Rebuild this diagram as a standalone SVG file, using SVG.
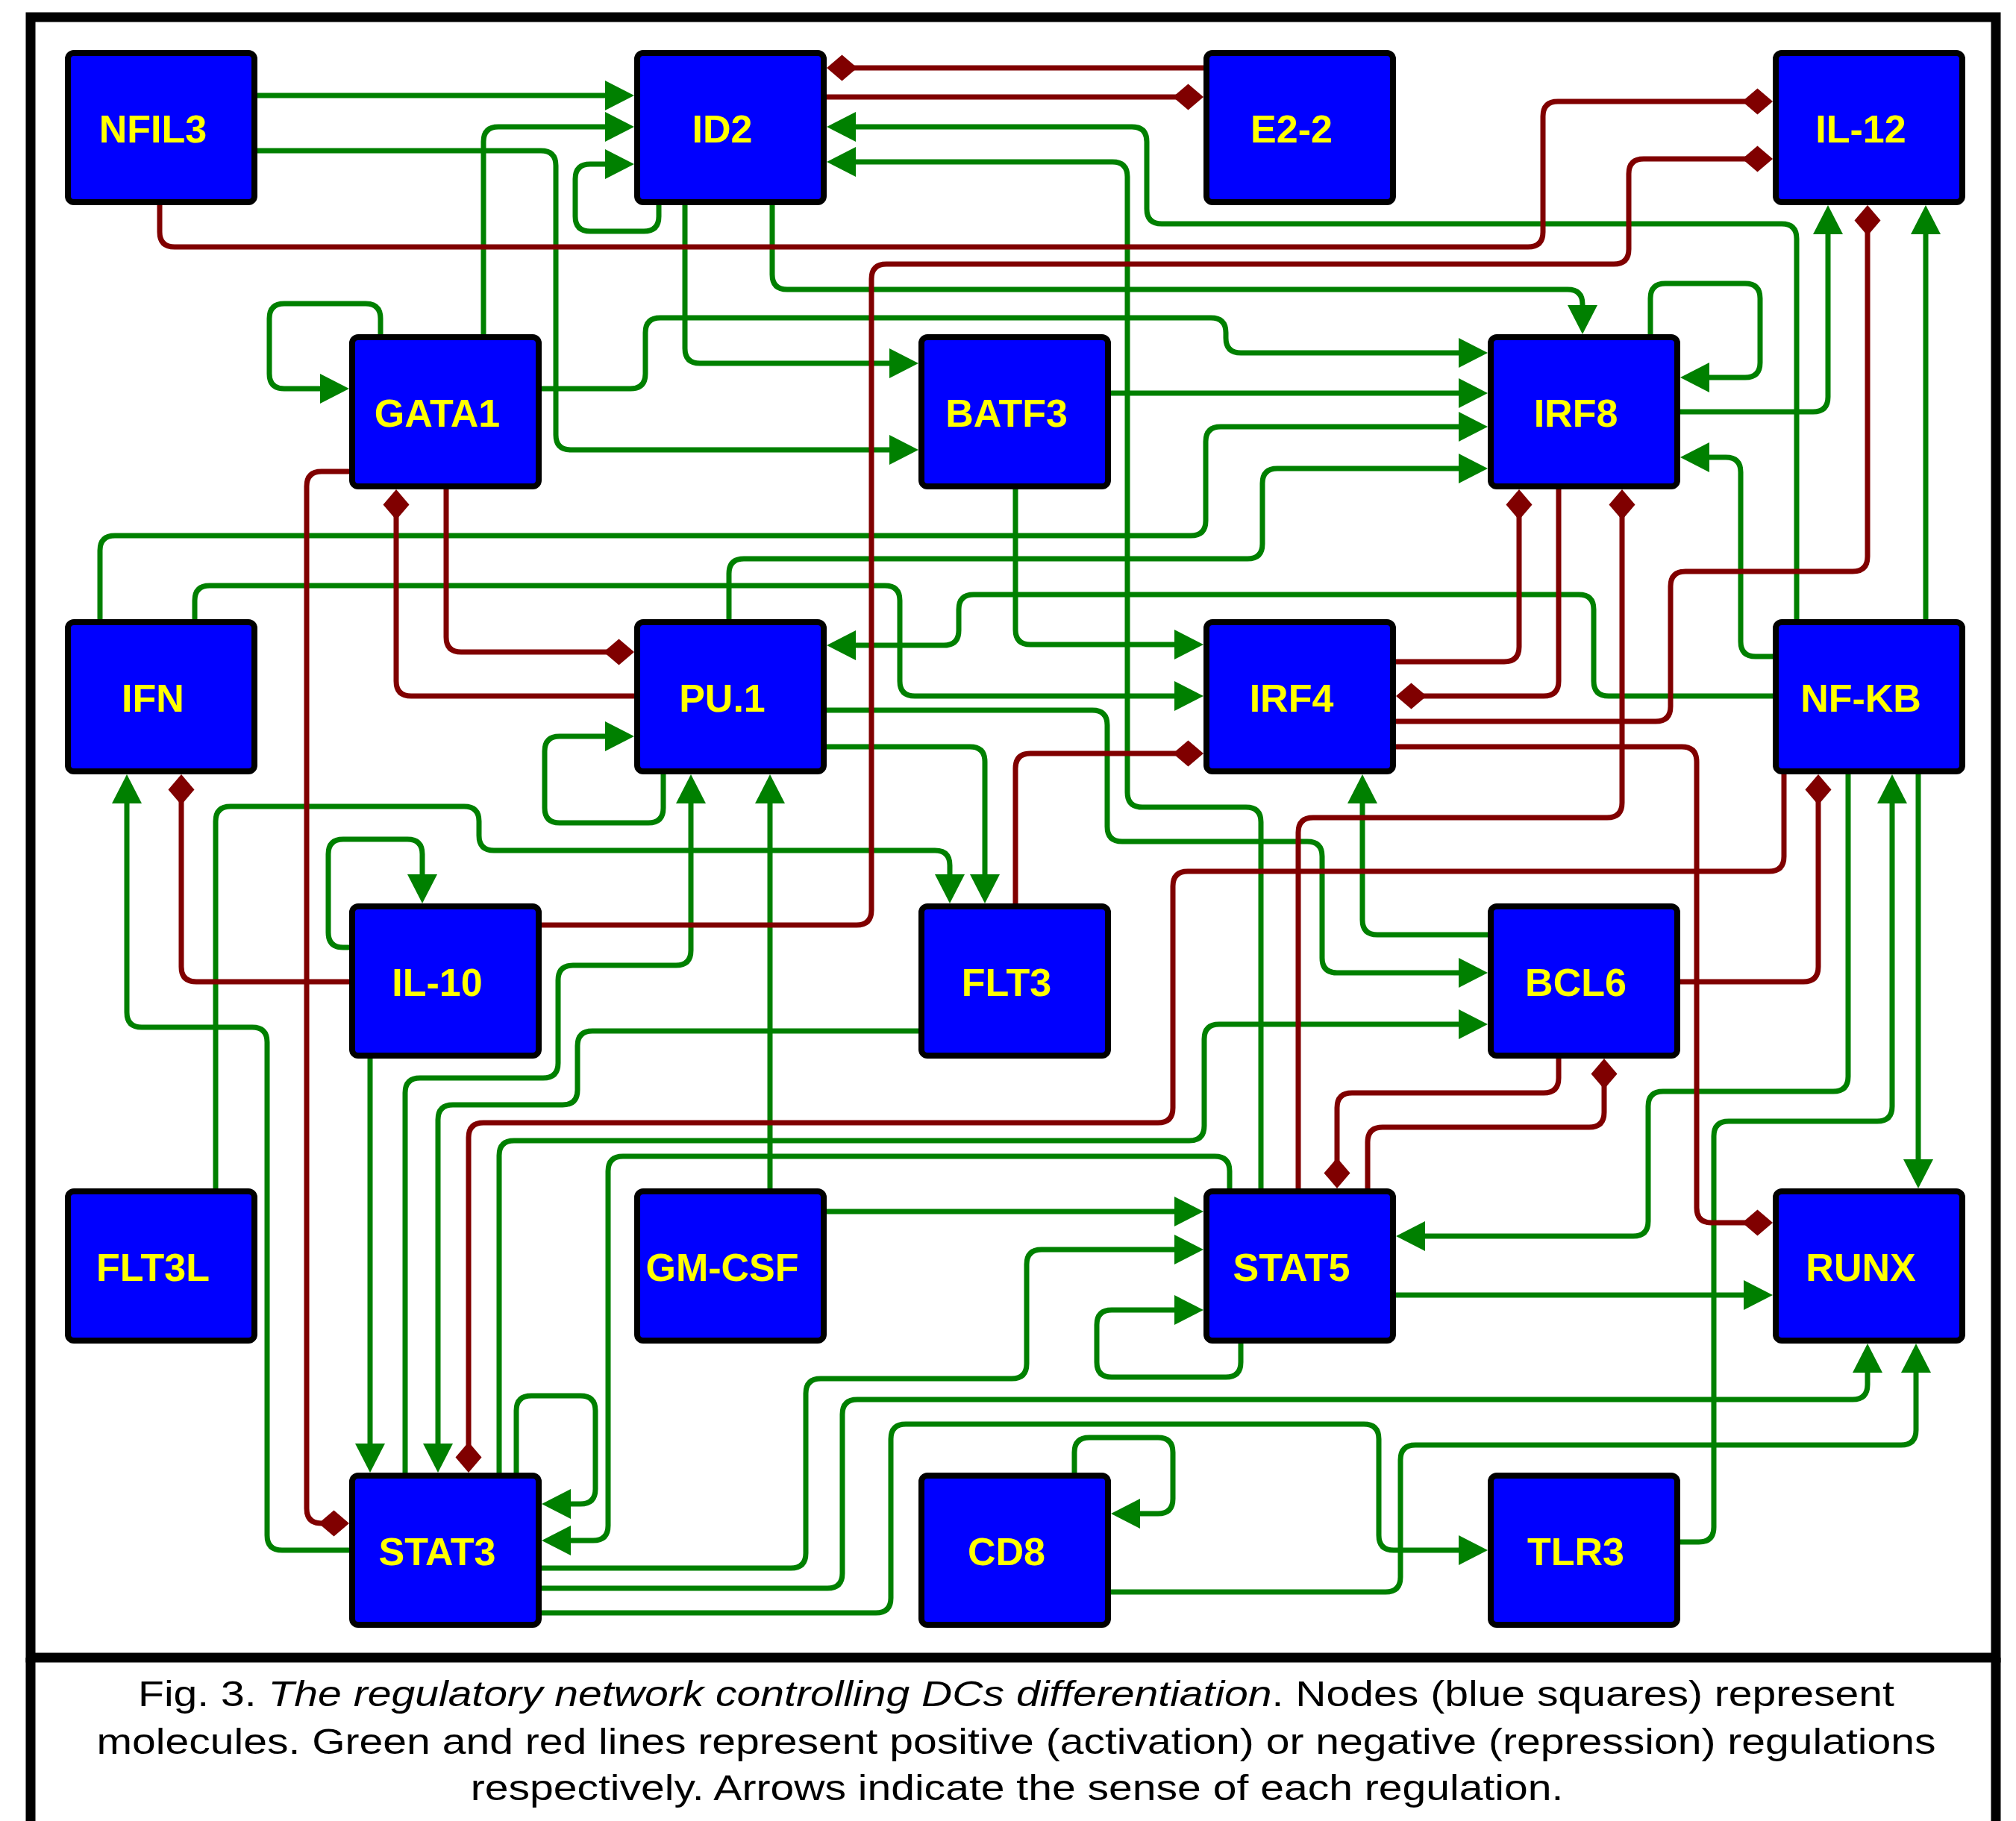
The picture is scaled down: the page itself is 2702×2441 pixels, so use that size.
<svg xmlns="http://www.w3.org/2000/svg" width="2702" height="2441" viewBox="0 0 2702 2441">
<defs>
<style>
.node rect{fill:#0000FF;stroke:#000;stroke-width:8}
.node text{font-family:"Liberation Sans",Arial,sans-serif;font-weight:bold;font-size:52px;fill:#FFFF00;text-anchor:middle}
.g{fill:none;stroke:#008000;stroke-width:7;marker-end:url(#arr)}
.r{fill:none;stroke:#800000;stroke-width:7;marker-end:url(#dia)}
.cap{font-family:"Liberation Sans",Arial,sans-serif;font-size:49px;fill:#000;text-anchor:middle}
</style>
<marker id="arr" markerUnits="userSpaceOnUse" viewBox="-48 -22 50 44" refX="-8" refY="0" markerWidth="50" markerHeight="44" orient="auto"><path d="M0,0 L-39,-20 L-39,20 Z" fill="#008000"/></marker>
<marker id="dia" markerUnits="userSpaceOnUse" viewBox="-48 -22 50 44" refX="-8" refY="0" markerWidth="50" markerHeight="44" orient="auto"><path d="M0,0 L-20.5,-17.5 L-41,0 L-20.5,17.5 Z" fill="#800000"/></marker>
</defs>
<rect x="0" y="0" width="2702" height="2441" fill="#fff"/>
<g id="frame" fill="none" stroke="#000" stroke-width="13">
<rect x="41" y="23" width="2634" height="2199"/>
<path d="M41,2222 L41,2441 M2675,2222 L2675,2441"/>
</g>
<g id="connectors">
<path class="g" d="M345,128 L842,128"/>
<path class="g" d="M648,448 L648,190 Q648,170 668,170 L842,170"/>
<path class="g" d="M345,202 L725,202 Q745,202 745,222 L745,583 Q745,603 765,603 L1223,603"/>
<path class="g" d="M883,275 L883,290 Q883,310 863,310 L791,310 Q771,310 771,290 L771,240 Q771,220 791,220 L842,220"/>
<path class="g" d="M510,448 L510,427 Q510,407 490,407 L381,407 Q361,407 361,427 L361,501 Q361,521 381,521 L460,521"/>
<path class="g" d="M726,521 L845,521 Q865,521 865,501 L865,446 Q865,426 885,426 L1623,426 Q1643,426 1643,446 L1643,453 Q1643,473 1663,473 L1986,473"/>
<path class="g" d="M918,275 L918,467 Q918,487 938,487 L1223,487"/>
<path class="g" d="M1035,275 L1035,368 Q1035,388 1055,388 L2101,388 Q2121,388 2121,408 L2121,440"/>
<path class="g" d="M2408,830 L2408,320 Q2408,300 2388,300 L1557,300 Q1537,300 1537,280 L1537,190 Q1537,170 1517,170 L1116,170"/>
<path class="g" d="M1690,1593 L1690,1102 Q1690,1082 1670,1082 L1531,1082 Q1511,1082 1511,1062 L1511,237 Q1511,217 1491,217 L1116,217"/>
<path class="g" d="M1489,527 L1986,527"/>
<path class="g" d="M134,830 L134,738 Q134,718 154,718 L1596,718 Q1616,718 1616,698 L1616,592 Q1616,572 1636,572 L1986,572"/>
<path class="g" d="M977,830 L977,769 Q977,749 997,749 L1672,749 Q1692,749 1692,729 L1692,648 Q1692,628 1712,628 L1986,628"/>
<path class="g" d="M1361,656 L1361,844 Q1361,864 1381,864 L1605,864"/>
<path class="g" d="M2212,448 L2212,400 Q2212,380 2232,380 L2339,380 Q2359,380 2359,400 L2359,486 Q2359,506 2339,506 L2260,506"/>
<path class="g" d="M2252,552 L2430,552 Q2450,552 2450,532 L2450,283"/>
<path class="g" d="M2581,830 L2581,283"/>
<path class="g" d="M2376,880 L2353,880 Q2333,880 2333,860 L2333,633 Q2333,613 2313,613 L2260,613"/>
<path class="g" d="M1994,1253 L1846,1253 Q1826,1253 1826,1233 L1826,1046"/>
<path class="g" d="M2477,1038 L2477,1443 Q2477,1463 2457,1463 L2229,1463 Q2209,1463 2209,1483 L2209,1637 Q2209,1657 2189,1657 L1879,1657"/>
<path class="g" d="M2252,2067 L2277,2067 Q2297,2067 2297,2047 L2297,1523 Q2297,1503 2317,1503 L2516,1503 Q2536,1503 2536,1483 L2536,1046"/>
<path class="g" d="M2571,1038 L2571,1585"/>
<path class="g" d="M2376,933 L2156,933 Q2136,933 2136,913 L2136,817 Q2136,797 2116,797 L1305,797 Q1285,797 1285,817 L1285,845 Q1285,865 1265,865 L1116,865"/>
<path class="g" d="M261,830 L261,805 Q261,785 281,785 L1186,785 Q1206,785 1206,805 L1206,913 Q1206,933 1226,933 L1605,933"/>
<path class="g" d="M1108,952 L1464,952 Q1484,952 1484,972 L1484,1108 Q1484,1128 1504,1128 L1752,1128 Q1772,1128 1772,1148 L1772,1284 Q1772,1304 1792,1304 L1986,1304"/>
<path class="g" d="M1108,1001 L1300,1001 Q1320,1001 1320,1021 L1320,1203"/>
<path class="g" d="M289,1593 L289,1101 Q289,1081 309,1081 L622,1081 Q642,1081 642,1101 L642,1120 Q642,1140 662,1140 L1253,1140 Q1273,1140 1273,1160 L1273,1203"/>
<path class="g" d="M543,1974 L543,1465 Q543,1445 563,1445 L728,1445 Q748,1445 748,1425 L748,1314 Q748,1294 768,1294 L906,1294 Q926,1294 926,1274 L926,1046"/>
<path class="g" d="M1032,1593 L1032,1046"/>
<path class="g" d="M889,1038 L889,1083 Q889,1103 869,1103 L750,1103 Q730,1103 730,1083 L730,1007 Q730,987 750,987 L842,987"/>
<path class="g" d="M468,1270 L460,1270 Q440,1270 440,1250 L440,1145 Q440,1125 460,1125 L546,1125 Q566,1125 566,1145 L566,1203"/>
<path class="g" d="M468,2078 L378,2078 Q358,2078 358,2058 L358,1397 Q358,1377 338,1377 L190,1377 Q170,1377 170,1357 L170,1046"/>
<path class="g" d="M496,1419 L496,1966"/>
<path class="g" d="M1231,1382 L794,1382 Q774,1382 774,1402 L774,1461 Q774,1481 754,1481 L607,1481 Q587,1481 587,1501 L587,1966"/>
<path class="g" d="M669,1974 L669,1549 Q669,1529 689,1529 L1594,1529 Q1614,1529 1614,1509 L1614,1393 Q1614,1373 1634,1373 L1986,1373"/>
<path class="g" d="M692,1974 L692,1891 Q692,1871 712,1871 L778,1871 Q798,1871 798,1891 L798,1996 Q798,2016 778,2016 L734,2016"/>
<path class="g" d="M1648,1593 L1648,1570 Q1648,1550 1628,1550 L835,1550 Q815,1550 815,1570 L815,2045 Q815,2065 795,2065 L734,2065"/>
<path class="g" d="M726,2102 L1060,2102 Q1080,2102 1080,2082 L1080,1868 Q1080,1848 1100,1848 L1356,1848 Q1376,1848 1376,1828 L1376,1695 Q1376,1675 1396,1675 L1605,1675"/>
<path class="g" d="M726,2129 L1109,2129 Q1129,2129 1129,2109 L1129,1896 Q1129,1876 1149,1876 L2483,1876 Q2503,1876 2503,1856 L2503,1809"/>
<path class="g" d="M726,2162 L1174,2162 Q1194,2162 1194,2142 L1194,1929 Q1194,1909 1214,1909 L1828,1909 Q1848,1909 1848,1929 L1848,2058 Q1848,2078 1868,2078 L1986,2078"/>
<path class="g" d="M1440,1974 L1440,1947 Q1440,1927 1460,1927 L1552,1927 Q1572,1927 1572,1947 L1572,2009 Q1572,2029 1552,2029 L1497,2029"/>
<path class="g" d="M1489,2134 L1857,2134 Q1877,2134 1877,2114 L1877,1957 Q1877,1937 1897,1937 L2548,1937 Q2568,1937 2568,1917 L2568,1809"/>
<path class="g" d="M1108,1624 L1605,1624"/>
<path class="g" d="M1663,1801 L1663,1826 Q1663,1846 1643,1846 L1490,1846 Q1470,1846 1470,1826 L1470,1776 Q1470,1756 1490,1756 L1605,1756"/>
<path class="g" d="M1871,1736 L2368,1736"/>
<path class="r" d="M1613,91 L1116,91"/>
<path class="r" d="M1108,130 L1605,130"/>
<path class="r" d="M214,275 L214,311 Q214,331 234,331 L2048,331 Q2068,331 2068,311 L2068,156 Q2068,136 2088,136 L2368,136"/>
<path class="r" d="M726,1240 L1148,1240 Q1168,1240 1168,1220 L1168,374 Q1168,354 1188,354 L2163,354 Q2183,354 2183,334 L2183,233 Q2183,213 2203,213 L2368,213"/>
<path class="r" d="M1871,967 L2219,967 Q2239,967 2239,947 L2239,786 Q2239,766 2259,766 L2483,766 Q2503,766 2503,746 L2503,283"/>
<path class="r" d="M1871,887 L2016,887 Q2036,887 2036,867 L2036,664"/>
<path class="r" d="M2089,656 L2089,913 Q2089,933 2069,933 L1879,933"/>
<path class="r" d="M1740,1593 L1740,1116 Q1740,1096 1760,1096 L2154,1096 Q2174,1096 2174,1076 L2174,664"/>
<path class="r" d="M1871,1001 L2254,1001 Q2274,1001 2274,1021 L2274,1619 Q2274,1639 2294,1639 L2368,1639"/>
<path class="r" d="M2391,1038 L2391,1148 Q2391,1168 2371,1168 L1592,1168 Q1572,1168 1572,1188 L1572,1485 Q1572,1505 1552,1505 L648,1505 Q628,1505 628,1525 L628,1966"/>
<path class="r" d="M2252,1316 L2417,1316 Q2437,1316 2437,1296 L2437,1046"/>
<path class="r" d="M2089,1419 L2089,1445 Q2089,1465 2069,1465 L1812,1465 Q1792,1465 1792,1485 L1792,1585"/>
<path class="r" d="M1833,1593 L1833,1531 Q1833,1511 1853,1511 L2130,1511 Q2150,1511 2150,1491 L2150,1427"/>
<path class="r" d="M1361,1211 L1361,1030 Q1361,1010 1381,1010 L1605,1010"/>
<path class="r" d="M598,656 L598,854 Q598,874 618,874 L842,874"/>
<path class="r" d="M850,933 L551,933 Q531,933 531,913 L531,664"/>
<path class="r" d="M468,632 L431,632 Q411,632 411,652 L411,2022 Q411,2042 431,2042 L460,2042"/>
<path class="r" d="M468,1316 L263,1316 Q243,1316 243,1296 L243,1046"/>
</g>
<g id="node-NFIL3" class="node"><rect x="91" y="71" width="250" height="200" rx="8"/><text x="205" y="191">NFIL3</text></g>
<g id="node-ID2" class="node"><rect x="854" y="71" width="250" height="200" rx="8"/><text x="968" y="191">ID2</text></g>
<g id="node-E2-2" class="node"><rect x="1617" y="71" width="250" height="200" rx="8"/><text x="1731" y="191">E2-2</text></g>
<g id="node-IL-12" class="node"><rect x="2380" y="71" width="250" height="200" rx="8"/><text x="2494" y="191">IL-12</text></g>
<g id="node-GATA1" class="node"><rect x="472" y="452" width="250" height="200" rx="8"/><text x="586" y="572">GATA1</text></g>
<g id="node-BATF3" class="node"><rect x="1235" y="452" width="250" height="200" rx="8"/><text x="1349" y="572">BATF3</text></g>
<g id="node-IRF8" class="node"><rect x="1998" y="452" width="250" height="200" rx="8"/><text x="2112" y="572">IRF8</text></g>
<g id="node-IFN" class="node"><rect x="91" y="834" width="250" height="200" rx="8"/><text x="205" y="954">IFN</text></g>
<g id="node-PU1" class="node"><rect x="854" y="834" width="250" height="200" rx="8"/><text x="968" y="954">PU.1</text></g>
<g id="node-IRF4" class="node"><rect x="1617" y="834" width="250" height="200" rx="8"/><text x="1731" y="954">IRF4</text></g>
<g id="node-NF-KB" class="node"><rect x="2380" y="834" width="250" height="200" rx="8"/><text x="2494" y="954">NF-KB</text></g>
<g id="node-IL-10" class="node"><rect x="472" y="1215" width="250" height="200" rx="8"/><text x="586" y="1335">IL-10</text></g>
<g id="node-FLT3" class="node"><rect x="1235" y="1215" width="250" height="200" rx="8"/><text x="1349" y="1335">FLT3</text></g>
<g id="node-BCL6" class="node"><rect x="1998" y="1215" width="250" height="200" rx="8"/><text x="2112" y="1335">BCL6</text></g>
<g id="node-FLT3L" class="node"><rect x="91" y="1597" width="250" height="200" rx="8"/><text x="205" y="1717">FLT3L</text></g>
<g id="node-GM-CSF" class="node"><rect x="854" y="1597" width="250" height="200" rx="8"/><text x="968" y="1717">GM-CSF</text></g>
<g id="node-STAT5" class="node"><rect x="1617" y="1597" width="250" height="200" rx="8"/><text x="1731" y="1717">STAT5</text></g>
<g id="node-RUNX" class="node"><rect x="2380" y="1597" width="250" height="200" rx="8"/><text x="2494" y="1717">RUNX</text></g>
<g id="node-STAT3" class="node"><rect x="472" y="1978" width="250" height="200" rx="8"/><text x="586" y="2098">STAT3</text></g>
<g id="node-CD8" class="node"><rect x="1235" y="1978" width="250" height="200" rx="8"/><text x="1349" y="2098">CD8</text></g>
<g id="node-TLR3" class="node"><rect x="1998" y="1978" width="250" height="200" rx="8"/><text x="2112" y="2098">TLR3</text></g>
<g id="caption">
<text class="cap" transform="translate(1362,2287) scale(1.165,1)" x="0" y="0">Fig. 3. <tspan font-style="italic">The regulatory network controlling DCs differentiation</tspan>. Nodes (blue squares) represent</text>
<text class="cap" transform="translate(1362,2351) scale(1.165,1)" x="0" y="0">molecules. Green and red lines represent positive (activation) or negative (repression) regulations</text>
<text class="cap" transform="translate(1363,2413) scale(1.165,1)" x="0" y="0">respectively. Arrows indicate the sense of each regulation.</text>
</g>
</svg>
